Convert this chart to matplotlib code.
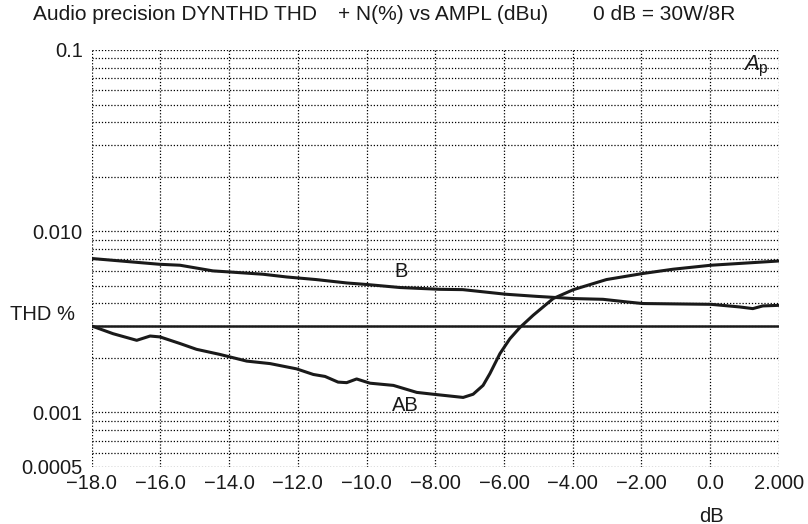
import numpy as np
import matplotlib
matplotlib.use('Agg')
import matplotlib.pyplot as plt
from matplotlib.ticker import FixedLocator, FixedFormatter, NullLocator

plt.rcParams['font.family'] = ['Liberation Sans', 'DejaVu Sans']
plt.rcParams['mathtext.fontset'] = 'custom'
plt.rcParams['mathtext.rm'] = 'Liberation Sans'
plt.rcParams['mathtext.it'] = 'Liberation Sans:italic'

# B 类曲线
b_db = [-18.0, -16.03, -15.43, -14.47, -14.0, -13.02, -12.32, -11.47, -10.57, -9.99,
        -9.03, -7.87, -7.2, -5.95, -5.05, -3.98, -3.12, -2.42, -1.97, 0.02,
        0.86, 1.24, 1.53, 2.0]
b_thd = [0.00707, 0.00657, 0.00649, 0.00604, 0.00596, 0.00579, 0.00559, 0.00541, 0.00518, 0.00508,
         0.00489, 0.00478, 0.00476, 0.00449, 0.00437, 0.00425, 0.00421, 0.00407, 0.00399, 0.00395,
         0.00382, 0.00374, 0.00387, 0.0039]

# AB 类曲线
ab_db = [-18.0, -17.38, -16.69, -16.3, -16.01, -15.43, -14.95, -14.27, -13.49, -12.81,
         -12.04, -11.55, -11.21, -10.83, -10.58, -10.29, -9.9, -9.22, -8.54, -8.06,
         -7.19, -6.9, -6.61, -6.41, -6.12, -5.83, -5.54, -5.15, -4.57, -3.98,
         -3.02, -1.97, -1.08, 0.02, 2.0]
ab_thd = [0.003, 0.00272, 0.0025, 0.00264, 0.00261, 0.0024, 0.00223, 0.00209, 0.00192, 0.00186,
          0.00174, 0.00162, 0.00158, 0.00147, 0.00146, 0.00153, 0.00145, 0.00141, 0.00129, 0.00126,
          0.00121, 0.00126, 0.00141, 0.00164, 0.00211, 0.00255, 0.00294, 0.00344, 0.00425, 0.00476,
          0.00541, 0.00584, 0.00617, 0.00649, 0.00685]

thd_ref = 0.003

x_ticks = [-18, -16, -14, -12, -10, -8, -6, -4, -2, 0, 2]
x_labels = ['\u221218.0', '\u221216.0', '\u221214.0', '\u221212.0', '\u221210.0',
            '\u22128.00', '\u22126.00', '\u22124.00', '\u22122.00', '0.0', '2.000']
y_ticks = [0.1, 0.01, 0.001, 0.0005]
y_labels = ['0.1', '0.010', '0.001', '0.0005']

fs = 14.5
ink = '#1a1a1a'

fig = plt.figure(figsize=(8.08, 5.24), dpi=100)
ax = fig.add_axes([0.1135, 0.1088, 0.8505, 0.7958])

ax.set_yscale('log')
ax.set_xlim(-18, 2)
ax.set_ylim(0.0005, 0.1)

# 网格（点线）
minor_y = [v * m for v in (0.0001, 0.001, 0.01) for m in range(1, 10)] + [0.1]
minor_y = [v for v in minor_y if 0.0005 <= v <= 0.1]
for v in minor_y:
    ax.axhline(v, color='black', lw=0.9, ls=(0, (1, 1.5)), zorder=1)
for v in x_ticks:
    ax.axvline(v, color='black', lw=0.9, ls=(0, (1, 1.5)), zorder=1)

for s in ax.spines.values():
    s.set_visible(False)

ax.axhline(thd_ref, color=ink, lw=1.8, zorder=2)
ax.plot(b_db, b_thd, color=ink, lw=2.2, zorder=3)
ax.plot(ab_db, ab_thd, color=ink, lw=2.2, zorder=3)

ax.xaxis.set_major_locator(FixedLocator(x_ticks))
ax.xaxis.set_major_formatter(FixedFormatter(x_labels))
ax.yaxis.set_major_locator(FixedLocator(y_ticks))
ax.yaxis.set_major_formatter(FixedFormatter(y_labels))
ax.yaxis.set_minor_locator(NullLocator())
ax.tick_params(length=0, labelsize=fs, colors=ink)
ax.tick_params(axis='x', pad=5)
ax.tick_params(axis='y', pad=6.5)

ax.text(-9.0, 0.00597, 'B', fontsize=fs, ha='center', va='center', color=ink)
ax.text(-8.86, 0.001094, 'AB', fontsize=fs, ha='center', va='center', color=ink)
ax.text(1.33, 0.0816, r'$\mathit{A}_\mathrm{p}$', fontsize=16, ha='center', va='center', color=ink)

fig.text(75 / 808, 1 - 314 / 524, 'THD %', fontsize=fs, ha='right', va='center', color=ink)

# 标题
ts = 15
ty = 1 - 15 / 524
fig.text(33 / 808, ty, 'Audio precision DYNTHD THD', fontsize=ts, ha='left', va='center', color=ink)
fig.text(338 / 808, ty, '+ N(%) vs AMPL (dBu)', fontsize=ts, ha='left', va='center', color=ink)
fig.text(593 / 808, ty, '0 dB = 30W/8R', fontsize=ts, ha='left', va='center', color=ink)
fig.text(711 / 808, 1 - 516 / 524, 'dB', fontsize=fs, ha='center', va='center', color=ink)

fig.savefig('out.png', dpi=100)
